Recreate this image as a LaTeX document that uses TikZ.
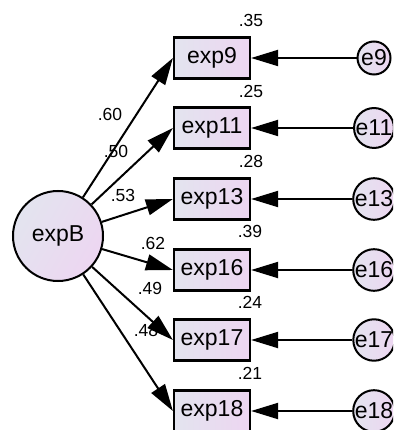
\documentclass[tikz,border=0pt]{standalone}
\usepackage{fontspec}
\setmainfont{Liberation Sans}
\usetikzlibrary{arrows.meta}
\definecolor{fillL}{HTML}{E3E4EF}
\definecolor{fillR}{HTML}{EDD6F1}

\begin{document}
\begin{tikzpicture}[x=1pt,y=-1pt]
  \tikzstyle{obs}=[draw, line width=2.2pt, minimum width=76pt, minimum height=41pt, inner sep=0pt,
    left color=fillL, right color=fillR, font=\fontsize{23}{23}\selectfont] % observed items
  \tikzstyle{lat}=[circle, draw, line width=2pt, minimum size=90pt, inner sep=0pt,
    left color=fillL, right color=fillR, shading angle=60, font=\fontsize{23}{23}\selectfont] % latent factor
  \tikzstyle{err}=[circle, draw, line width=2pt, minimum size=33pt, inner sep=0pt,
    left color=fillL, right color=fillR, font=\fontsize{23}{23}\selectfont] % error terms
  \tikzstyle{coef}=[inner sep=0pt, font=\fontsize{17.5}{17.5}\selectfont] % loadings and R^2
  \tikzstyle{path}=[line width=2pt, -{Triangle[length=27pt,width=16pt]}]
  \useasboundingbox (0,0) rectangle (393,430);
  \clip (0,0) rectangle (393,430);

  \node[lat] (expB) at (58,236) {expB};

  \node[obs] (exp9)  at (212,58)  {exp9};
  \node[obs] (exp11) at (212,128) {exp11};
  \node[obs] (exp13) at (212,199) {exp13};
  \node[obs] (exp16) at (212,270) {exp16};
  \node[obs] (exp17) at (212,340) {exp17};
  \node[obs] (exp18) at (212,411) {exp18};

  \node[err] (e9)  at (374,58)  {e9};
  \node[err] (e11) at (374,128) {e11};
  \node[err] (e13) at (374,199) {e13};
  \node[err] (e16) at (374,270) {e16};
  \node[err] (e17) at (374,340) {e17};
  \node[err] (e18) at (374,411) {e18};

  % squared multiple correlations
  \node[coef] (r9)  at (251,20)  {.35};
  \node[coef] (r11) at (251,91)  {.25};
  \node[coef] (r13) at (251,161) {.28};
  \node[coef] (r16) at (250,231) {.39};
  \node[coef] (r17) at (250,302) {.24};
  \node[coef] (r18) at (250,373) {.21};

  % standardized loadings
  \node[coef] (w9)  at (110,114) {.60};
  \node[coef] (w11) at (116,151) {.50};
  \node[coef] (w13) at (123,195) {.53};
  \node[coef] (w16) at (153,243) {.62};
  \node[coef] (w17) at (150,288) {.49};
  \node[coef] (w18) at (146,330) {.48};

  \draw[path] (expB) -- (exp9.west);
  \draw[path] (expB) -- (exp11.west);
  \draw[path] (expB) -- (exp13.west);
  \draw[path] (expB) -- (exp16.west);
  \draw[path] (expB) -- (exp17.west);
  \draw[path] (expB) -- (exp18.west);

  \draw[path] (e9)  -- (exp9);
  \draw[path] (e11) -- (exp11);
  \draw[path] (e13) -- (exp13);
  \draw[path] (e16) -- (exp16);
  \draw[path] (e17) -- (exp17);
  \draw[path] (e18) -- (exp18);
\end{tikzpicture}
\end{document}
